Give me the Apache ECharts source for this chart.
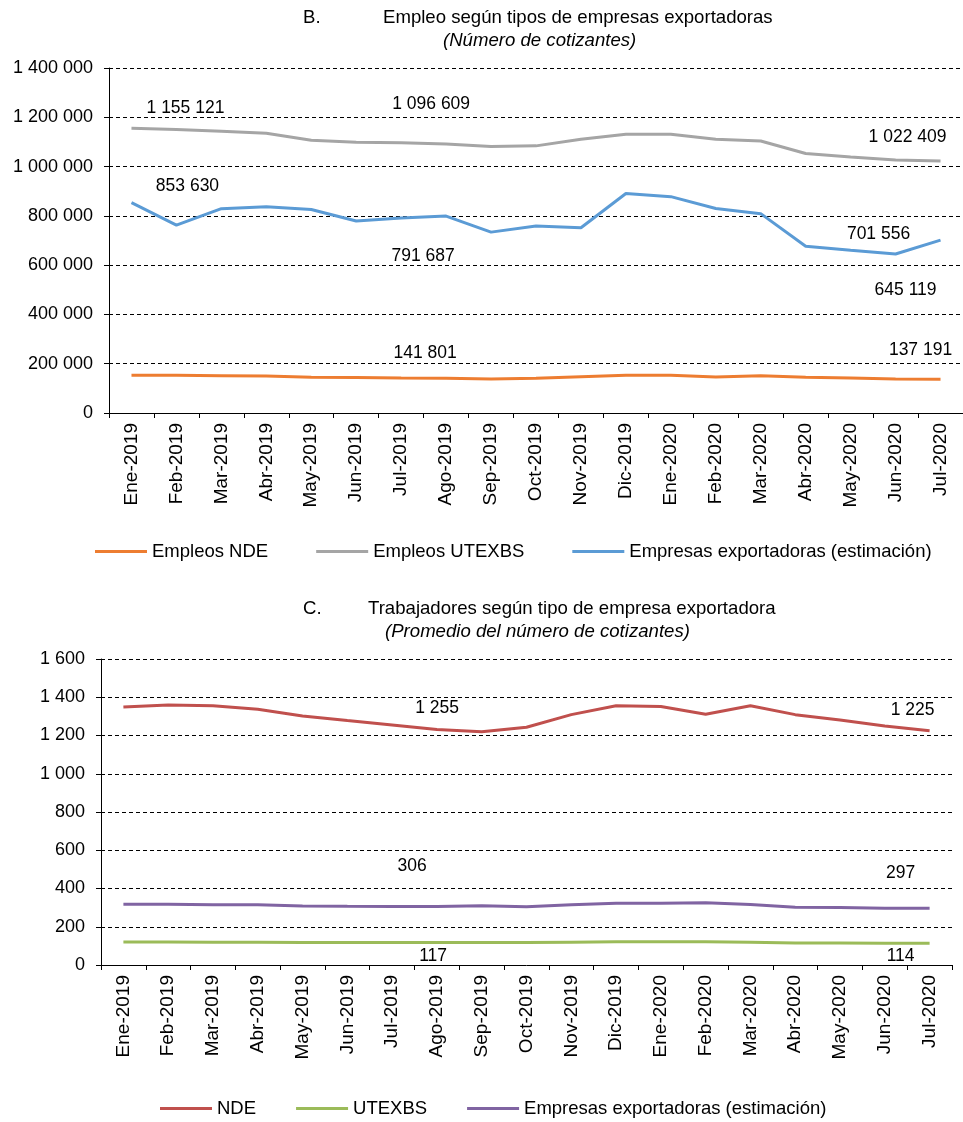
<!DOCTYPE html>
<html>
<head>
<meta charset="utf-8">
<script src="https://cdn.jsdelivr.net/npm/echarts@6/dist/echarts.min.js"></script>
<style>
  html, body { margin: 0; padding: 0; background: #fff; }
  #chart { width: 963px; height: 1122px; }
</style>
</head>
<body>
<div id="chart"></div>
<script>
// categorías (meses)
const months = ["Ene-2019", "Feb-2019", "Mar-2019", "Abr-2019", "May-2019", "Jun-2019", "Jul-2019",
  "Ago-2019", "Sep-2019", "Oct-2019", "Nov-2019", "Dic-2019", "Ene-2020", "Feb-2020", "Mar-2020",
  "Abr-2020", "May-2020", "Jun-2020", "Jul-2020"];

// B. Empleo según tipos de empresas exportadoras
const empleosNDE = [153000, 153000, 151600, 150300, 145000, 143600, 141801, 141500, 138100, 140800,
  147600, 153000, 153000, 146200, 151600, 145000, 142200, 138100, 137191];
const empleosUTEXBS = [1155121, 1150000, 1143000, 1135000, 1107000, 1099000, 1096609, 1092000, 1081000, 1084000,
  1111000, 1131000, 1131000, 1111000, 1104000, 1053000, 1039000, 1027000, 1022409];
const empresasEstimB = [853630, 762500, 829000, 837000, 826000, 779000, 791687, 799000, 734000, 758500,
  752000, 891000, 878000, 830000, 809000, 677000, 660000, 645119, 701556];

// C. Trabajadores según tipo de empresa exportadora
const trabNDE = [1349, 1359, 1355, 1337, 1302, 1278, 1255, 1231, 1220, 1243,
  1309, 1356, 1352, 1311, 1356, 1309, 1281, 1250, 1225];
const trabUTEXBS = [120, 120, 119, 119, 117, 117, 117, 117, 117, 117,
  119, 121, 121, 121, 119, 115, 115, 114, 114];
const trabEstimC = [318, 318, 315, 315, 309, 307, 306, 306, 310, 305,
  315, 323, 323, 325, 316, 302, 301, 297, 297];

// etiquetas de datos: serie, índice del mes, desplazamiento del texto
const labelsB = [
  { s: 1, i: 0, dx: 54, dy: -20 },
  { s: 1, i: 6, dx: 30, dy: -39 },
  { s: 1, i: 18, dx: -33, dy: -24 },
  { s: 2, i: 0, dx: 56, dy: -16 },
  { s: 2, i: 6, dx: 22, dy: 38 },
  { s: 2, i: 18, dx: -62, dy: -6 },
  { s: 2, i: 17, dx: 10, dy: 36 },
  { s: 0, i: 6, dx: 24, dy: -25 },
  { s: 0, i: 18, dx: -20, dy: -29 },
];
const labelsC = [
  { s: 0, i: 6, dx: 45, dy: -17 },
  { s: 0, i: 18, dx: -17, dy: -21 },
  { s: 2, i: 6, dx: 20, dy: -40 },
  { s: 2, i: 18, dx: -29, dy: -35 },
  { s: 1, i: 6, dx: 41, dy: 14 },
  { s: 1, i: 18, dx: -29, dy: 13 },
];

const FONT = "'Liberation Sans', Arial, sans-serif";
const fmt = (v) => String(Math.round(v)).replace(/\B(?=(\d{3})+(?!\d))/g, " ");

const chart = echarts.init(document.getElementById("chart"), null, { renderer: "canvas" });

const gridLine = { show: true, lineStyle: { color: "#000", width: 1, type: [4, 3] } };

function xAxisFor(gridIndex) {
  return {
    type: "category",
    gridIndex,
    data: months,
    boundaryGap: true,
    axisLine: { lineStyle: { color: "#000", width: 1 } },
    axisTick: { show: true, length: 5, lineStyle: { color: "#000" } },
    axisLabel: { rotate: 90, interval: 0, margin: 10, color: "#000", fontSize: 19, fontFamily: FONT },
    splitLine: { show: false },
  };
}

function yAxisFor(gridIndex, max, interval) {
  return {
    type: "value",
    gridIndex,
    min: 0,
    max,
    interval,
    axisLine: { show: true, lineStyle: { color: "#000", width: 1 } },
    axisTick: { show: true, length: 5, lineStyle: { color: "#000" } },
    axisLabel: { margin: 16, color: "#000", fontSize: 18, fontFamily: FONT, formatter: fmt },
    splitLine: gridLine,
  };
}

function lineSeries(name, data, color, idx) {
  return {
    name,
    type: "line",
    data,
    xAxisIndex: idx,
    yAxisIndex: idx,
    symbol: "none",
    smooth: false,
    lineStyle: { color, width: 3 },
    itemStyle: { color },
  };
}

const titleText = { color: "#000", fontSize: 18.6, fontWeight: "normal", fontFamily: FONT };
const subText = { ...titleText, fontStyle: "italic" };
const legendText = { color: "#000", fontSize: 18.5, fontFamily: FONT };

const seriesB = [
  lineSeries("Empleos NDE", empleosNDE, "#ED7D31", 0),
  lineSeries("Empleos UTEXBS", empleosUTEXBS, "#A5A5A5", 0),
  lineSeries("Empresas exportadoras (estimación)", empresasEstimB, "#5B9BD5", 0),
];
const seriesC = [
  lineSeries("NDE", trabNDE, "#C0504D", 1),
  lineSeries("UTEXBS", trabUTEXBS, "#9BBB59", 1),
  lineSeries("Empresas exportadoras (estimación) ", trabEstimC, "#8064A2", 1),
];

chart.setOption({
  animation: false,
  backgroundColor: "#fff",
  textStyle: { fontFamily: FONT },
  title: [
    { text: "B.", left: 303, top: 8, padding: 0, textStyle: titleText },
    { text: "Empleo según tipos de empresas exportadoras", left: 383, top: 8, padding: 0, textStyle: titleText },
    { text: "(Número de cotizantes)", left: 443, top: 31, padding: 0, textStyle: subText },
    { text: "C.", left: 303, top: 599, padding: 0, textStyle: titleText },
    { text: "Trabajadores según tipo de empresa exportadora", left: 368, top: 599, padding: 0, textStyle: titleText },
    { text: "(Promedio del número de cotizantes)", left: 385, top: 622, padding: 0, textStyle: subText },
  ],
  legend: [
    {
      data: seriesB.map((s) => s.name),
      left: 95, top: 542, padding: 0,
      icon: "rect", itemWidth: 52, itemHeight: 3, itemGap: 48,
      textStyle: legendText,
    },
    {
      data: seriesC.map((s) => s.name),
      left: 160, top: 1099, padding: 0,
      icon: "rect", itemWidth: 52, itemHeight: 3, itemGap: 40,
      textStyle: legendText,
      formatter: (n) => n.trim(),
    },
  ],
  grid: [
    { left: 109, top: 68, width: 860, height: 345 },
    { left: 101, top: 659, width: 851, height: 306 },
  ],
  xAxis: [xAxisFor(0), xAxisFor(1)],
  yAxis: [yAxisFor(0, 1400000, 200000), yAxisFor(1, 1600, 200)],
  series: [...seriesB, ...seriesC],
});

// etiquetas de datos colocadas con las escalas de cada gráfico
function dataLabels(list, series, idx) {
  return list.map((l) => {
    const v = series[l.s].data[l.i];
    const p = chart.convertToPixel({ xAxisIndex: idx, yAxisIndex: idx }, [months[l.i], v]);
    return {
      type: "text",
      x: p[0] + l.dx,
      y: p[1] + l.dy,
      style: {
        text: fmt(v),
        fill: "#000",
        font: "17.5px " + FONT,
        textAlign: "center",
        textVerticalAlign: "middle",
      },
    };
  });
}

chart.setOption({
  graphic: [...dataLabels(labelsB, seriesB, 0), ...dataLabels(labelsC, seriesC, 1)],
});
</script>
</body>
</html>
